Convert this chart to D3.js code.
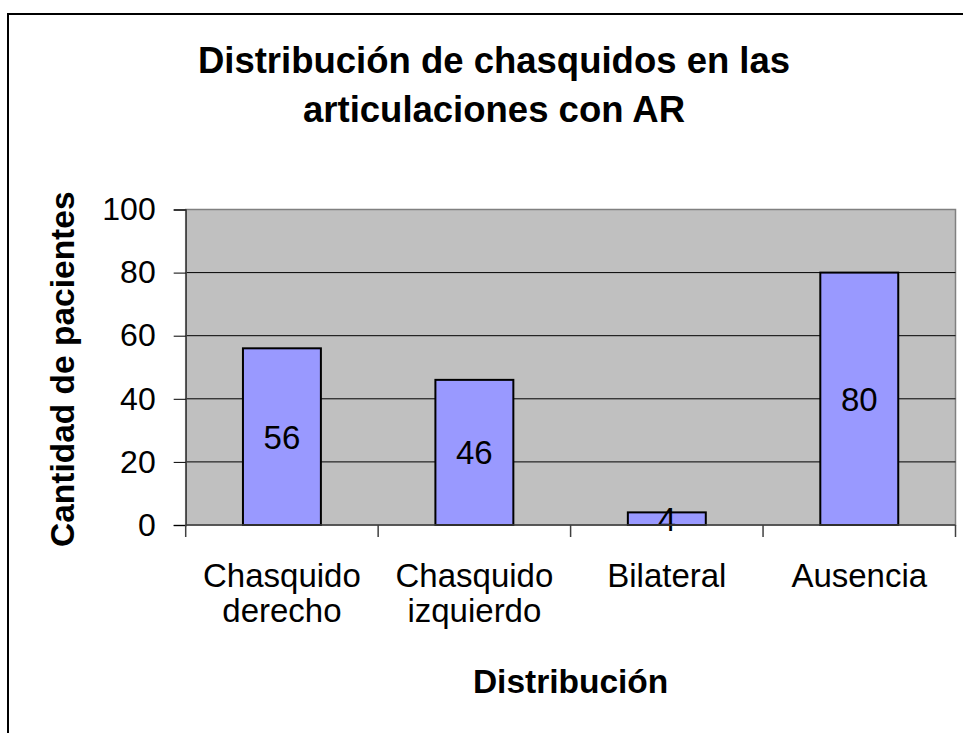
<!DOCTYPE html>
<html>
<head>
<meta charset="utf-8">
<script src="https://cdn.jsdelivr.net/npm/d3@7"></script>
<style>
  body { margin: 0; background: #fff; }
  svg { display: block; font-family: "Liberation Sans", Arial, sans-serif; }
</style>
</head>
<body>
<div id="container"></div>
<script>
// data
var categories = ["Chasquido derecho", "Chasquido izquierdo", "Bilateral", "Ausencia"]
var categoryLines = [["Chasquido", "derecho"], ["Chasquido", "izquierdo"], ["Bilateral"], ["Ausencia"]]
var values = [56, 46, 4, 80]
var yTicks = [0, 20, 40, 60, 80, 100]
var titleLines = ["Distribución de chasquidos en las", "articulaciones con AR"]
var yTitle = "Cantidad de pacientes"
var xTitle = "Distribución"

// dimensions
var width = 963
var height = 733
var plot = { left: 185.7, right: 955.5, top: 209.5, bottom: 525 }

var svg = d3.select("#container")
  .append("svg")
  .attr("width", width)
  .attr("height", height)

// outer frame (runs off the right and bottom edges)
svg.append("rect")
  .attr("x", 8)
  .attr("y", 14)
  .attr("width", 1000)
  .attr("height", 800)
  .attr("fill", "none")
  .attr("stroke", "#000")
  .attr("stroke-width", 2)

// scales
var x = d3.scaleBand()
  .domain(categories)
  .range([plot.left, plot.right])
  .padding(0)

var y = d3.scaleLinear()
  .domain([0, 100])
  .range([plot.bottom, plot.top])

// plot background
svg.append("rect")
  .attr("x", plot.left)
  .attr("y", plot.top)
  .attr("width", plot.right - plot.left)
  .attr("height", plot.bottom - plot.top)
  .attr("fill", "#c0c0c0")
  .attr("stroke", "#808080")
  .attr("stroke-width", 1.5)

// gridlines
svg.append("g")
  .selectAll("line")
  .data(yTicks.filter(function(d) { return d > 0 && d < 100 }))
  .enter()
  .append("line")
  .attr("x1", plot.left)
  .attr("x2", plot.right)
  .attr("y1", function(d) { return y(d) })
  .attr("y2", function(d) { return y(d) })
  .attr("stroke", "#000")
  .attr("stroke-width", 1)

// bars
var barW = x.bandwidth() * 0.405
svg.append("g")
  .selectAll("rect")
  .data(values)
  .enter()
  .append("rect")
  .attr("x", function(d, i) { return x(categories[i]) + x.bandwidth() / 2 - barW / 2 })
  .attr("y", function(d) { return y(d) })
  .attr("width", barW)
  .attr("height", function(d) { return y(0) - y(d) })
  .attr("fill", "#9999ff")
  .attr("stroke", "#000")
  .attr("stroke-width", 2)

// value labels in the middle of each bar
svg.append("g")
  .selectAll("text")
  .data(values)
  .enter()
  .append("text")
  .attr("x", function(d, i) { return x(categories[i]) + x.bandwidth() / 2 })
  .attr("y", function(d) { return y(d / 2) })
  .attr("dy", "0.36em")
  .attr("text-anchor", "middle")
  .attr("font-size", 33)
  .attr("fill", "#000")
  .text(function(d) { return d })

// y axis
var yAxis = svg.append("g")
  .attr("transform", "translate(" + plot.left + ",0)")
  .call(d3.axisLeft(y).tickValues(yTicks).tickSize(12).tickPadding(18))
yAxis.select(".domain").attr("stroke", "#404040").attr("stroke-width", 1.5)
yAxis.selectAll(".tick line").attr("stroke", "#000")
yAxis.selectAll(".tick text")
  .attr("font-size", 32)
  .attr("font-family", "Liberation Sans, Arial, sans-serif")
  .attr("fill", "#000")

// x axis line and boundary ticks
var xg = svg.append("g")
xg.append("line")
  .attr("x1", plot.left)
  .attr("x2", plot.right)
  .attr("y1", y(0))
  .attr("y2", y(0))
  .attr("stroke", "#404040")
  .attr("stroke-width", 1.5)
var bounds = categories.map(function(c) { return x(c) }).concat([x.range()[1]])
xg.selectAll("line.tick")
  .data(bounds)
  .enter()
  .append("line")
  .attr("class", "tick")
  .attr("x1", function(d) { return d })
  .attr("x2", function(d) { return d })
  .attr("y1", y(0))
  .attr("y2", y(0) + 12)
  .attr("stroke", "#404040")
  .attr("stroke-width", 1.5)

// category labels
xg.selectAll("text")
  .data(categoryLines)
  .enter()
  .append("text")
  .attr("text-anchor", "middle")
  .attr("font-size", 33)
  .attr("fill", "#000")
  .each(function(lines, i) {
    var t = d3.select(this)
    lines.forEach(function(l, j) {
      t.append("tspan")
        .attr("x", x(categories[i]) + x.bandwidth() / 2)
        .attr("y", 587 + j * 35)
        .text(l)
    })
  })

// title
svg.append("g")
  .selectAll("text")
  .data(titleLines)
  .enter()
  .append("text")
  .attr("x", 494)
  .attr("y", function(d, i) { return 73 + i * 49 })
  .attr("text-anchor", "middle")
  .attr("font-size", 36.5)
  .attr("font-weight", "bold")
  .text(function(d) { return d })

// axis titles
svg.append("text")
  .attr("transform", "translate(74," + ((plot.top + plot.bottom) / 2 + 2) + ") rotate(-90)")
  .attr("text-anchor", "middle")
  .attr("font-size", 33.5)
  .attr("font-weight", "bold")
  .text(yTitle)

svg.append("text")
  .attr("x", (plot.left + plot.right) / 2)
  .attr("y", 693)
  .attr("text-anchor", "middle")
  .attr("font-size", 33.5)
  .attr("font-weight", "bold")
  .text(xTitle)
</script>
</body>
</html>
